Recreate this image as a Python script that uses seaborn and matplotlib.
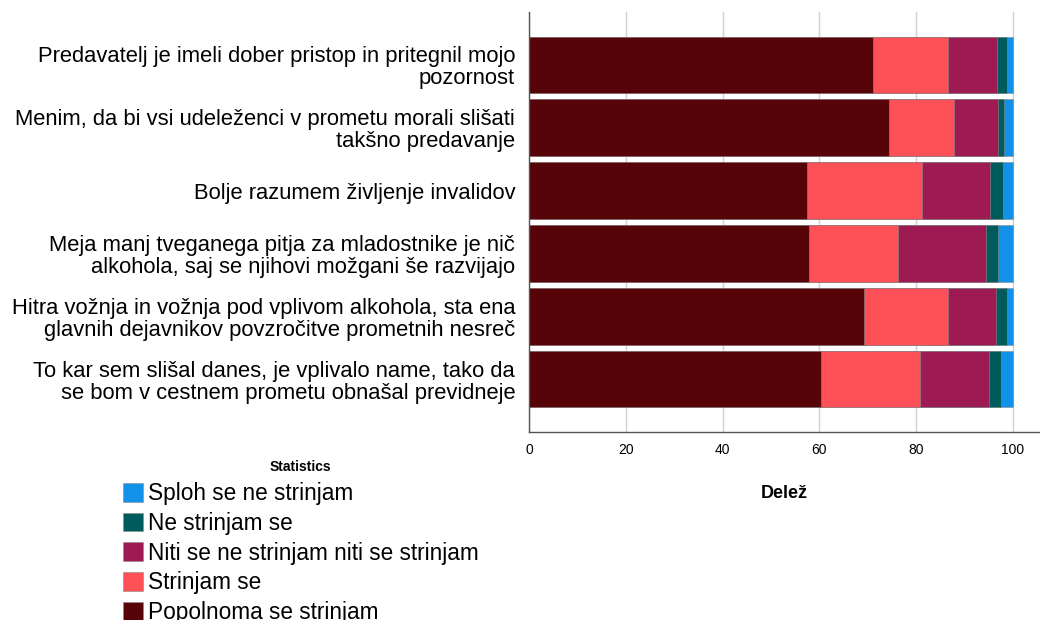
import pandas as pd
import seaborn as sns
import matplotlib.pyplot as plt
from matplotlib.patches import Patch

# --- Data ---
questions = [
    "Predavatelj je imeli dober pristop in pritegnil mojo\npozornost",
    "Menim, da bi vsi udeleženci v prometu morali slišati\ntakšno predavanje",
    "Bolje razumem življenje invalidov",
    "Meja manj tveganega pitja za mladostnike je nič\nalkohola, saj se njihovi možgani še razvijajo",
    "Hitra vožnja in vožnja pod vplivom alkohola, sta ena\nglavnih dejavnikov povzročitve prometnih nesreč",
    "To kar sem slišal danes, je vplivalo name, tako da\nse bom v cestnem prometu obnašal previdneje",
]
popolnoma = [71.1, 74.4, 57.5, 57.9, 69.3, 60.3]
strinjam = [15.5, 13.4, 23.8, 18.4, 17.3, 20.6]
niti = [10.2, 9.2, 13.9, 18.1, 9.9, 14.1]
ne_strinjam = [2.0, 1.1, 2.7, 2.6, 2.3, 2.5]
sploh_ne = [1.2, 1.9, 2.1, 3.0, 1.2, 2.5]

categories = ["Popolnoma se strinjam", "Strinjam se", "Niti se ne strinjam niti se strinjam",
              "Ne strinjam se", "Sploh se ne strinjam"]
colors = ["#570408", "#FD5057", "#9E1A52", "#005C5C", "#1192E8"]

df = pd.DataFrame({"question": questions,
                   categories[0]: popolnoma, categories[1]: strinjam, categories[2]: niti,
                   categories[3]: ne_strinjam, categories[4]: sploh_ne})
cum = df[categories].cumsum(axis=1)
cum["question"] = questions

# --- Plotting ---
sns.set_theme(style="white")
plt.rcParams["font.family"] = ["Liberation Sans", "DejaVu Sans"]
plt.rcParams["text.color"] = "black"

fig = plt.figure(figsize=(10.4, 6.2), dpi=100)
ax = fig.add_axes([0.5087, 0.3032, 0.4913, 0.6774])

# stacked bars: draw cumulative totals from outermost to innermost
for cat, col in reversed(list(zip(categories, colors))):
    sns.barplot(data=cum, x=cat, y="question", color=col, saturation=1, width=0.9,
                edgecolor="#8a8a8a", linewidth=0.4, orient="h", ax=ax)

ax.set_xlim(0, 105.6)
ax.set_ylim(5.84, -0.84)
ax.set_xticks([0, 20, 40, 60, 80, 100])
ax.grid(axis="x", color="#d0d0d0", linewidth=1)
ax.set_axisbelow(True)
for s in ["top", "right"]:
    ax.spines[s].set_visible(False)
for s in ["left", "bottom"]:
    ax.spines[s].set_color("#555555")
    ax.spines[s].set_linewidth(1)
ax.tick_params(axis="y", length=0, labelsize=15.8, pad=10, labelcolor="black")
ax.tick_params(axis="x", length=0, labelsize=10, pad=8, labelcolor="black")
for t in ax.get_yticklabels():
    t.set_linespacing(1.07)
ax.set_ylabel("")
ax.set_xlabel("Delež", fontsize=13, weight="bold", labelpad=20, color="black")

# legend (title placed separately so its spacing matches)
handles = [Patch(facecolor=c, edgecolor="#8a8a8a", linewidth=0.4, label=l)
           for c, l in reversed(list(zip(colors, categories)))]
fig.legend(handles=handles, loc="upper left", bbox_to_anchor=(0.099, 0.2548),
           frameon=False, fontsize=16.3, handlelength=0.88, handleheight=0.88,
           handletextpad=0.2, labelspacing=0.29, borderpad=0.4)
fig.text(300 / 1040, 1 - 467 / 620, "Statistics", ha="center", va="center",
         fontsize=10, weight="bold")

fig.savefig("out.png", dpi=100)
